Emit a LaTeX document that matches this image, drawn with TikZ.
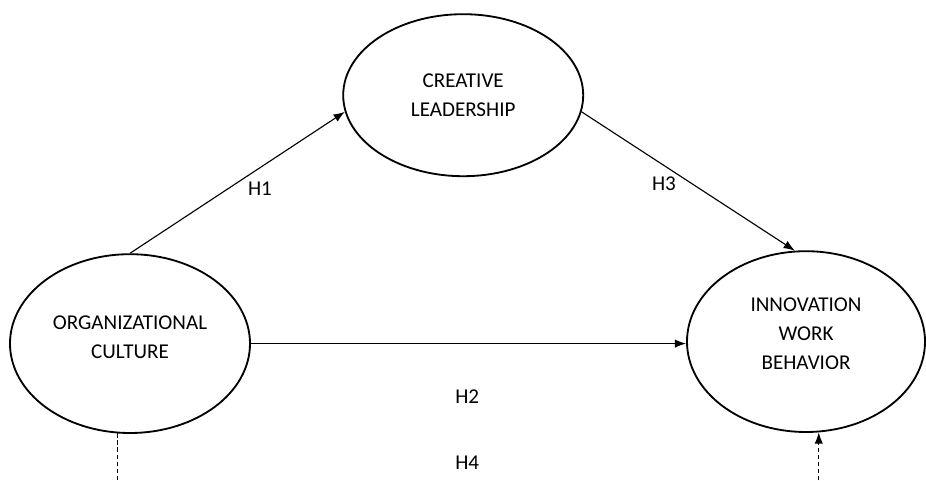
\documentclass[tikz,border=0pt]{standalone}
\usepackage{fontspec}
\setmainfont{Carlito}
\usetikzlibrary{shapes.geometric,arrows.meta}

\tikzset{
    construct/.style={ellipse, draw, line width=1.3pt, align=center, inner sep=0pt},
    path/.style={line width=0.8pt, -{Latex[length=8pt,width=6pt]}},
    hyp/.style={inner sep=0pt}
}

\begin{document}
\begin{tikzpicture}[font=\fontsize{15}{20.6}\selectfont]
            \useasboundingbox (0,0) rectangle (23.15,12);
            \node[construct, minimum width=6cm, minimum height=4.47cm] (culture) at (3.25,3.41) {ORGANIZATIONAL\\CULTURE\\[-12pt]\mbox{}};
            \node[construct, minimum width=6cm, minimum height=4.05cm] (leadership) at (11.58,9.62) {CREATIVE\\LEADERSHIP};
            \node[construct, minimum width=5.95cm, minimum height=4.52cm] (behavior) at (20.15,3.46) {INNOVATION\\WORK\\BEHAVIOR\\[-9pt]\mbox{}};
            \draw[path] (culture.north) -- (leadership.188);
            \draw[path] (leadership.-8) -- (behavior.97);
            \draw[path] (culture.east) -- (culture.east -| behavior.west);
            \coordinate (culturefoot) at (culture.262 |- 0,0);
            \coordinate (behaviorfoot) at (behavior.278 |- 0,0);
            \draw[line width=0.8pt, dash pattern=on 3pt off 2pt] (culture.262) -- (culturefoot);
            \draw[path, dash pattern=on 3pt off 2pt] (behaviorfoot) -- (behavior.278);
            \node[hyp] (h1) at (6.5,7.28) {H1};
            \node[hyp] (h3) at (16.6,7.4) {H3};
            \node[hyp] (h2) at (11.68,2.08) {H2};
            \node[hyp] (h4) at (11.68,0.43) {H4};
        \end{tikzpicture}
\end{document}
